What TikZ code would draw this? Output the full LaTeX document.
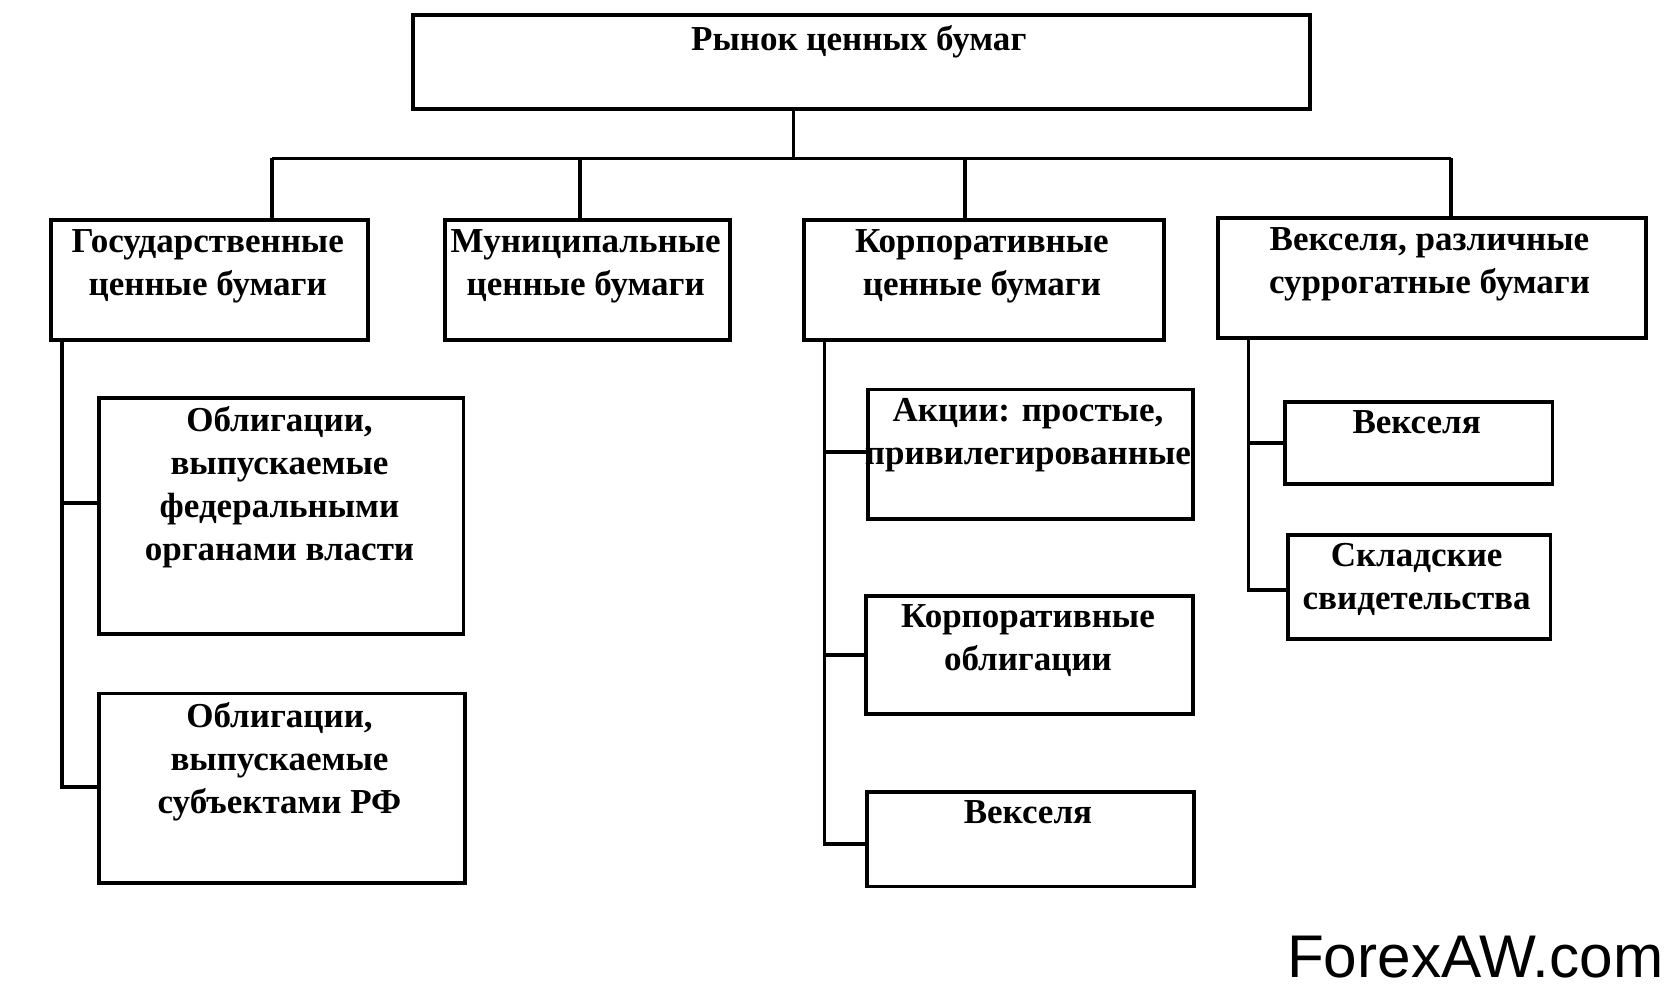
\documentclass[tikz,border=0pt]{standalone}
\usepackage{fontspec}
\setmainfont{Liberation Serif}
\newfontfamily\wmfont{Liberation Sans}
\usetikzlibrary{positioning}
\begin{document}
\begin{tikzpicture}[x=0.01cm,y=-0.01cm,
  line width=1pt,
  box/.style = {draw,rectangle,anchor=north west,inner sep=0pt},
  lbl/.style = {anchor=north,align=center,inner sep=0pt,font=\fontsize{9.3}{11.4}\selectfont\bfseries}
  ]
	\useasboundingbox (0,0) rectangle (1568,940);

	% boxes
	\node[box,minimum width=8.37cm,minimum height=0.88cm] (top) at (384,12) {};
	\node[box,minimum width=2.96cm,minimum height=1.12cm] (gov) at (46,204) {};
	\node[box,minimum width=2.66cm,minimum height=1.12cm] (mun) at (414,204) {};
	\node[box,minimum width=3.36cm,minimum height=1.12cm] (corp) at (749,204) {};
	\node[box,minimum width=3.99cm,minimum height=1.12cm] (bill) at (1136,202) {};

	\node[box,minimum width=3.40cm,minimum height=2.20cm] (gov1) at (91,370) {};
	\node[box,minimum width=3.41cm,minimum height=1.77cm] (gov2) at (91,646) {};

	\node[box,minimum width=3.03cm,minimum height=1.21cm] (corp1) at (809,362) {};
	\node[box,minimum width=3.05cm,minimum height=1.10cm] (corp2) at (807,555) {};
	\node[box,minimum width=3.05cm,minimum height=0.88cm] (corp3) at (808,738) {};

	\node[box,minimum width=2.50cm,minimum height=0.76cm] (bill1) at (1198,374) {};
	\node[box,minimum width=2.45cm,minimum height=0.97cm] (bill2) at (1201,498) {};

	% texts
	\node[lbl] at (802,22) {Рынок ценных бумаг};
	\node[lbl] at (194,213) {Государственные\\ценные бумаги};
	\node[lbl] at (547,213) {Муниципальные\\ценные бумаги};
	\node[lbl] at (917,213) {Корпоративные\\ценные бумаги};
	\node[lbl] at (1335,211) {Векселя, различные\\суррогатные бумаги};
	\node[lbl] at (261,378) {Облигации,\\выпускаемые\\федеральными\\органами власти};
	\node[lbl] at (261,654) {Облигации,\\выпускаемые\\субъектами РФ};
	\node[lbl] at (960,370) {Акции: простые,\\привилегированные};
	\node[lbl] at (960,563) {Корпоративные\\облигации};
	\node[lbl] at (960,746) {Векселя};
	\node[lbl] at (1323,382) {Векселя};
	\node[lbl] at (1323,506) {Складские\\свидетельства};
	\node[anchor=south east,inner sep=0pt,font=\wmfont\fontsize{16}{19}\selectfont] (wm) at (1555,915) {ForexAW.com};

	% bus
	\coordinate (hub) at (741,148);
	\coordinate (b1) at (254,148);
	\coordinate (b2) at (542,148);
	\coordinate (b3) at (901,148);
	\coordinate (b4) at (1355,148);
	\draw (top.south -| hub) -- (hub);
	\draw (b1) -- (b4);
	\draw (b1) -- (b1 |- gov.north);
	\draw (b2) -- (b2 |- mun.north);
	\draw (b3) -- (b3 |- corp.north);
	\draw (b4) -- (b4 |- bill.north);

	% spines
	\coordinate (s1) at (58,316);
	\coordinate (s2) at (770,316);
	\coordinate (s3) at (1166,314);
	\draw (s1) |- (gov2.west |- 0,735);
	\draw (s1 |- 0,470) -- (gov1.west |- 0,470);
	\draw (s2) |- (corp3.west |- 0,788);
	\draw (s2 |- 0,422) -- (corp1.west |- 0,422);
	\draw (s2 |- 0,612) -- (corp2.west |- 0,612);
	\draw (s3) |- (bill2.west |- 0,551);
	\draw (s3 |- 0,414) -- (bill1.west |- 0,414);
\end{tikzpicture}
\end{document}
